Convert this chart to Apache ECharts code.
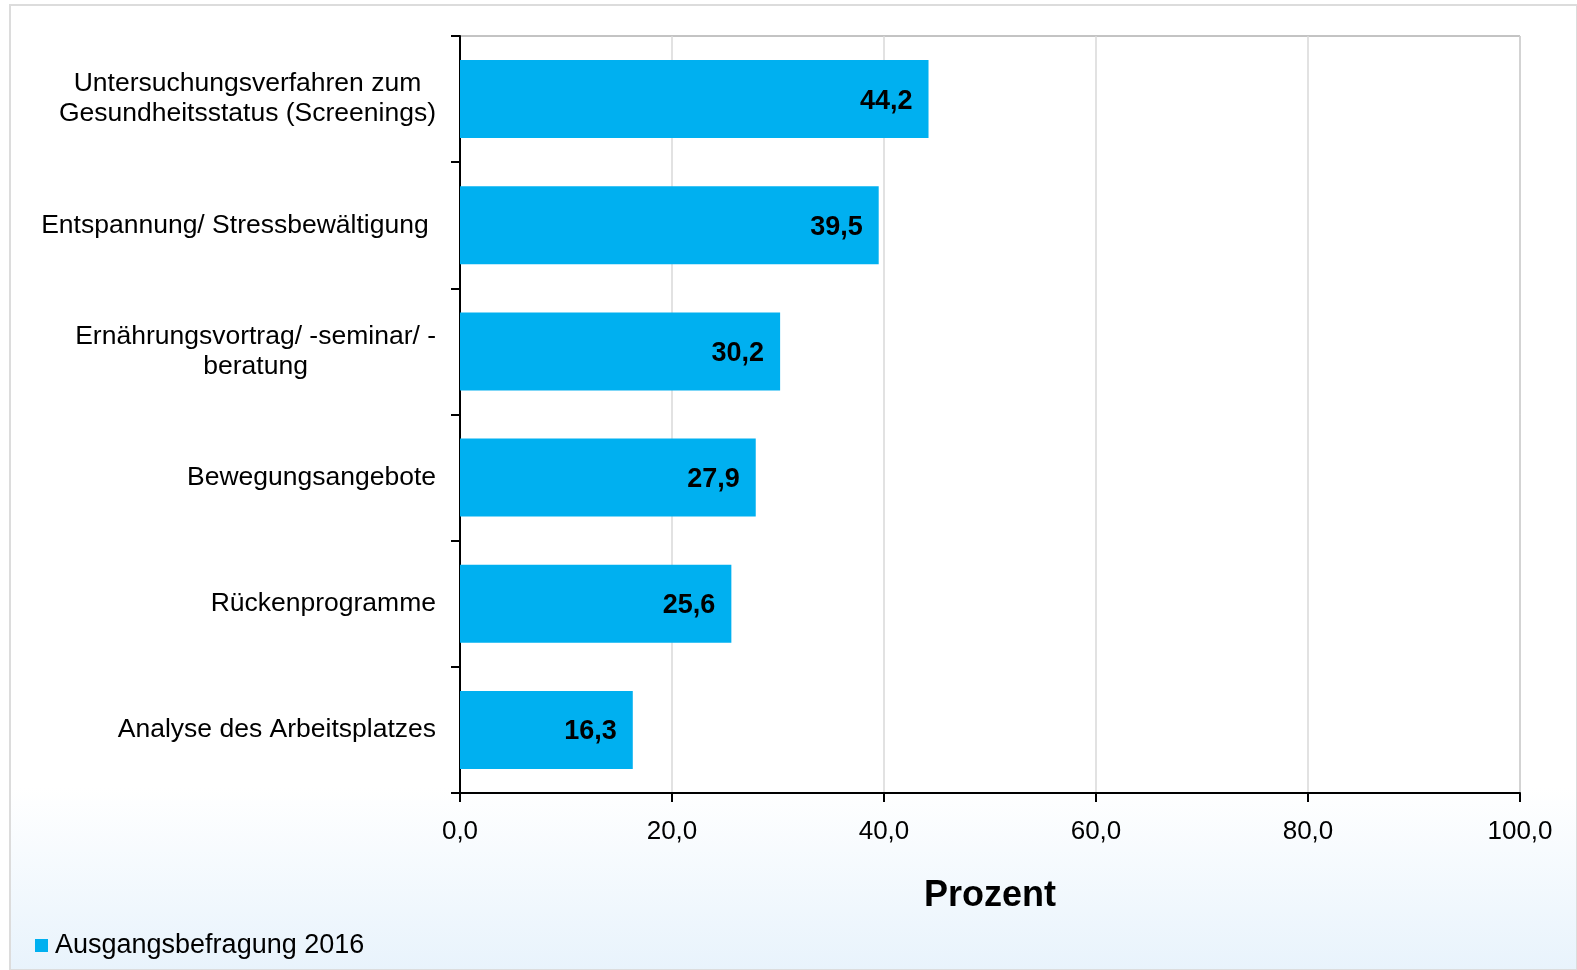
<!DOCTYPE html>
<html>
<head>
<meta charset="utf-8">
<script src="https://cdn.jsdelivr.net/npm/echarts@6/dist/echarts.min.js"></script>
<style>
html, body { margin: 0; padding: 0; background: #fff; }
#chart { width: 1577px; height: 970px; }
</style>
</head>
<body>
<div id="chart"></div>
<script>
// Kategorien von oben nach unten
var categories = [
  'Untersuchungsverfahren zum\nGesundheitsstatus (Screenings)',
  'Entspannung/ Stressbewältigung ',
  'Ernährungsvortrag/ -seminar/ -\nberatung',
  'Bewegungsangebote',
  'Rückenprogramme',
  'Analyse des Arbeitsplatzes'
];
var values2016 = [44.2, 39.5, 30.2, 27.9, 25.6, 16.3];
var seriesName = 'Ausgangsbefragung 2016';
var fontFam = '"Liberation Sans", Arial, sans-serif';

function fmt(v) {
  return v.toFixed(1).replace('.', ',');
}

var myChart = echarts.init(document.getElementById('chart'));
var option = {
  backgroundColor: '#fff',
  animation: false,
  graphic: [
    {
      type: 'rect',
      z: -10,
      shape: { x: 10, y: 5, width: 1567, height: 965 },
      style: {
        fill: new echarts.graphic.LinearGradient(0, 0, 0, 1, [
          { offset: 0, color: '#ffffff' },
          { offset: 0.81, color: '#ffffff' },
          { offset: 1, color: '#e8f3fc' }
        ]),
        stroke: '#dcdcdc',
        lineWidth: 2
      }
    }
  ],
  grid: {
    left: 460,
    right: 57,
    top: 36,
    bottom: 177,
    show: true,
    borderColor: '#888',
    borderWidth: 1,
    backgroundColor: '#fff'
  },
  legend: {
    left: 30,
    top: 927,
    itemWidth: 13,
    itemHeight: 13,
    icon: 'rect',
    itemGap: 10,
    textStyle: { fontFamily: fontFam, fontSize: 27, color: '#000', padding: [0, 0, 0, 2] },
    data: [seriesName]
  },
  xAxis: {
    type: 'value',
    min: 0,
    max: 100,
    interval: 20,
    name: 'Prozent',
    nameLocation: 'middle',
    nameGap: 85,
    nameTextStyle: { fontFamily: fontFam, fontSize: 36, fontWeight: 'bold', color: '#000' },
    axisLine: { show: true, lineStyle: { color: '#000', width: 2 } },
    axisTick: { show: true, length: 9, lineStyle: { color: '#000', width: 2 } },
    axisLabel: {
      formatter: function (v) { return fmt(v); },
      fontFamily: fontFam,
      fontSize: 26,
      color: '#000',
      margin: 26
    },
    splitLine: { show: true, lineStyle: { color: '#d9d9d9', width: 1.5 } }
  },
  yAxis: {
    type: 'category',
    inverse: true,
    data: categories,
    axisLine: { show: true, lineStyle: { color: '#000', width: 2 } },
    axisTick: { show: true, length: 9, alignWithLabel: false, lineStyle: { color: '#000', width: 2 } },
    axisLabel: {
      fontFamily: fontFam,
      fontSize: 26.5,
      color: '#000',
      margin: 24,
      align: 'right',
      lineHeight: 30,
      formatter: function (v) { return '{c|' + v.split('\n').join('}\n{c|') + '}'; },
      rich: {
        c: { align: 'center', fontFamily: fontFam, fontSize: 26.5, color: '#000', lineHeight: 30 }
      }
    },
    splitLine: { show: false }
  },
  series: [
    {
      name: seriesName,
      type: 'bar',
      data: values2016,
      barWidth: 78,
      itemStyle: { color: '#00b0f0' },
      label: {
        show: true,
        position: 'insideRight',
        distance: 16,
        offset: [0, 2],
        formatter: function (p) { return fmt(p.value); },
        fontFamily: fontFam,
        fontSize: 27,
        fontWeight: 'bold',
        color: '#000'
      }
    }
  ]
};
myChart.setOption(option);
</script>
</body>
</html>
